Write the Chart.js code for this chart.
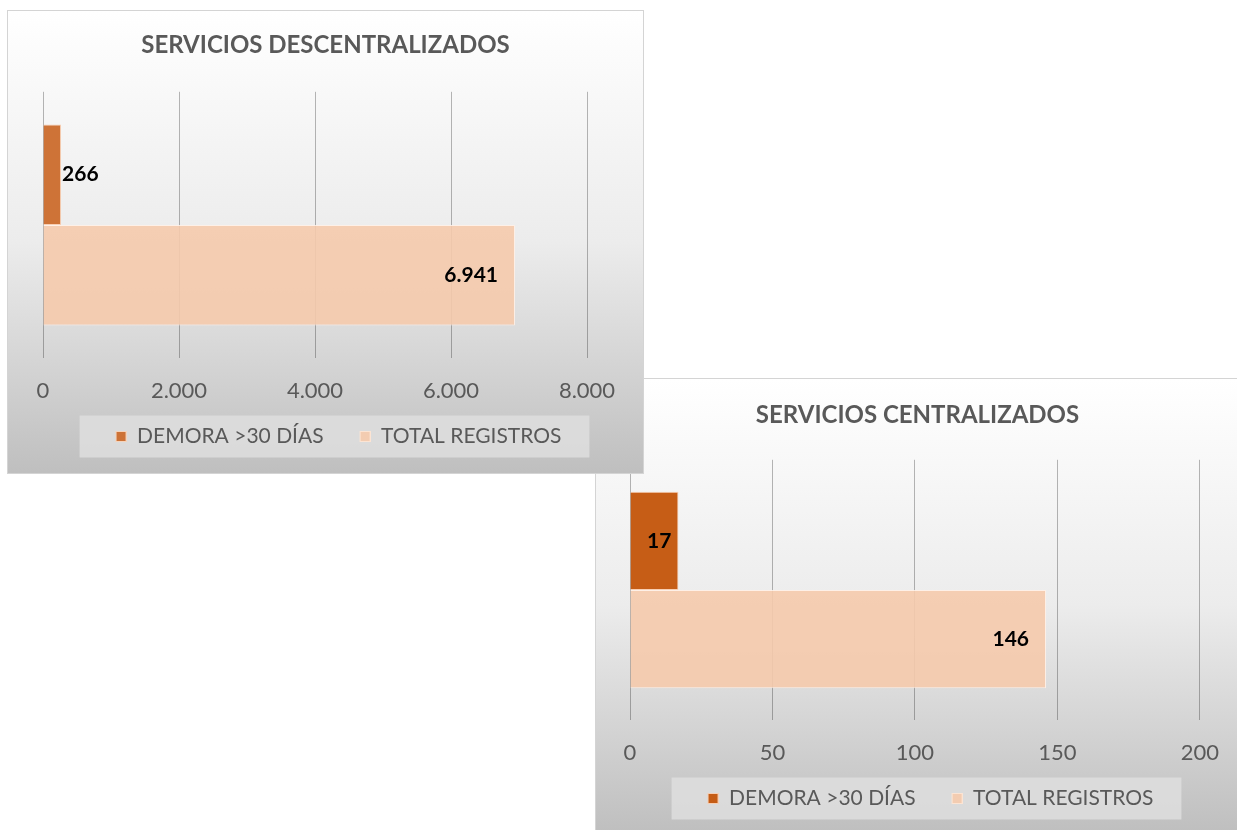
<!DOCTYPE html>
<html>
<head>
<meta charset="utf-8">
<script src="https://cdn.jsdelivr.net/npm/chart.js@4.4.1/dist/chart.umd.min.js"></script>
<style>
  body { margin: 0; background: #ffffff; width: 1237px; height: 830px; overflow: hidden; position: relative; }
  .panel {
    position: absolute;
    box-sizing: border-box;
    border: 1px solid #d4d4d4;
    background: linear-gradient(to bottom, #ffffff 0%, #ececec 50%, #bfbfbf 100%);
  }
  .panel canvas { display: block; }
  #p1 { left: 7px; top: 10px; width: 637px; height: 464px; z-index: 2; }
  #p2 { left: 595px; top: 378px; width: 645px; height: 455px; z-index: 1; }
</style>
</head>
<body>
<div class="panel" id="p1"><canvas id="descChart" width="635" height="462"></canvas></div>
<div class="panel" id="p2"><canvas id="cenChart" width="643" height="453"></canvas></div>
<script>
// datos
const categorias     = [''];
const series         = ['DEMORA >30 DÍAS', 'TOTAL REGISTROS'];
const descDemora     = [266];
const descTotal      = [6941];
const descTicks      = ['0', '2.000', '4.000', '6.000', '8.000'];
const cenDemora      = [17];
const cenTotal       = [146];
const cenTicks       = ['0', '50', '100', '150', '200'];

const textColor = '#595959';
const peach     = 'rgba(245,202,172,0.9)';

function fmt(v){
    return String(v).replace(/\B(?=(\d{3})+(?!\d))/g, '.');
}

// marcador cuadrado de la leyenda, con hueco a la izquierda para separar los items
function marker(color){
    const c = document.createElement('canvas');
    c.width = 37;
    c.height = 11;
    const g = c.getContext('2d');
    g.fillStyle = color;
    g.fillRect(26, 0, 11, 11);
    g.strokeStyle = 'rgba(255,235,220,0.8)';
    g.lineWidth = 1;
    g.strokeRect(26.5, 0.5, 10, 10);
    return c;
}

// fondo gris de la leyenda
const legendBox = {
    id: 'legendBox',
    beforeDraw(chart){
        const boxes = chart.legend && chart.legend.legendHitBoxes;
        if(!boxes || !boxes.length) return;
        const ctx = chart.ctx;
        const left  = boxes[0].left - 10;
        const last  = boxes[boxes.length-1];
        const right = last.left + last.width + 28;
        const cy    = boxes[0].top + boxes[0].height/2;
        ctx.save();
        ctx.fillStyle = 'rgba(222,222,222,0.85)';
        ctx.fillRect(left, cy - 21, right - left, 42);
        ctx.restore();
    }
};

// etiquetas de valores
const valueLabels = {
    id: 'valueLabels',
    afterDatasetsDraw(chart){
        const ctx = chart.ctx;
        ctx.save();
        ctx.font = 'bold 21px Lato';
        ctx.fillStyle = '#000000';
        ctx.textBaseline = 'middle';
        chart.data.datasets.forEach((ds, i) => {
            const meta = chart.getDatasetMeta(i);
            meta.data.forEach((bar, j) => {
                const txt = fmt(ds.data[j]);
                const w = ctx.measureText(txt).width;
                const barW = bar.x - bar.base;
                if(barW >= w + 34){
                    ctx.textAlign = 'right';
                    ctx.fillText(txt, bar.x - 17, bar.y);
                }else if(barW >= w + 10){
                    ctx.textAlign = 'right';
                    ctx.fillText(txt, bar.x - 7, bar.y);
                }else{
                    ctx.textAlign = 'left';
                    ctx.fillText(txt, bar.x + 1, bar.y);
                }
            });
        });
        ctx.restore();
    }
};

function makeChart(id, title, demora, total, ticks, maxX, stepX, demoraColor, pad){
    const markers = [marker(demoraColor), marker(peach)];
    return new Chart(document.getElementById(id).getContext('2d'), {
        type: 'bar',
        data: {
            labels: categorias,
            datasets: [{
                label: series[0],
                data: demora,
                backgroundColor: demoraColor,
                borderColor: 'rgba(248,203,173,0.9)',
                borderWidth: 1,
                categoryPercentage: 0.755,
                barPercentage: 1.0
            }, {
                label: series[1],
                data: total,
                backgroundColor: peach,
                borderColor: 'rgba(255,240,230,0.9)',
                borderWidth: 1,
                categoryPercentage: 0.755,
                barPercentage: 1.0
            }]
        },
        options: {
            responsive: false,
            animation: false,
            indexAxis: 'y',
            layout: { padding: { left: 0, right: 0, top: 0, bottom: pad.bottom } },
            scales: {
                x: {
                    min: 0,
                    max: maxX,
                    afterBuildTicks: (scale) => {
                        scale.ticks = ticks.map((t, i) => ({ value: i * stepX }));
                    },
                    afterFit: (scale) => { scale.height = pad.axis; },
                    grid: { color: 'rgba(0,0,0,0.28)', lineWidth: 1, drawTicks: false },
                    border: { display: false },
                    ticks: {
                        padding: 20,
                        color: textColor,
                        font: { family: 'Lato', size: 22 },
                        callback: (v, i) => ticks[i]
                    }
                },
                // ejes vacíos solo para dejar márgenes
                y: {
                    position: 'left',
                    afterFit: (scale) => { scale.width = pad.left; },
                    grid: { display: false },
                    border: { display: false },
                    ticks: { display: false }
                },
                y2: {
                    type: 'linear',
                    position: 'right',
                    afterFit: (scale) => { scale.width = pad.right; },
                    grid: { display: false },
                    border: { display: false },
                    ticks: { display: false }
                }
            },
            plugins: {
                title: {
                    display: true,
                    text: title,
                    color: textColor,
                    font: { family: 'Lato', size: 24, weight: 'bold' },
                    padding: { top: pad.titleTop, bottom: pad.titleBottom }
                },
                legend: {
                    position: 'bottom',
                    labels: {
                        color: textColor,
                        font: { family: 'Lato', size: 21 },
                        usePointStyle: true,
                        pointStyleWidth: 37,
                        boxHeight: 11,
                        padding: 10,
                        generateLabels: (chart) => {
                            const items = Chart.defaults.plugins.legend.labels.generateLabels(chart);
                            items.forEach((it, i) => { it.pointStyle = markers[i]; });
                            return items;
                        }
                    }
                },
                tooltip: { enabled: false }
            }
        },
        plugins: [legendBox, valueLabels]
    });
}

makeChart('descChart', 'SERVICIOS DESCENTRALIZADOS', descDemora, descTotal, descTicks, 8000, 2000,
    'rgba(204,109,47,0.96)', { left: 35, right: 56, bottom: 16, axis: 58, titleTop: 20, titleBottom: 32 });

makeChart('cenChart', 'SERVICIOS CENTRALIZADOS', cenDemora, cenTotal, cenTicks, 200, 50,
    'rgba(197,90,17,0.98)', { left: 34, right: 39, bottom: 13, axis: 58, titleTop: 22, titleBottom: 30 });
</script>
</body>
</html>
